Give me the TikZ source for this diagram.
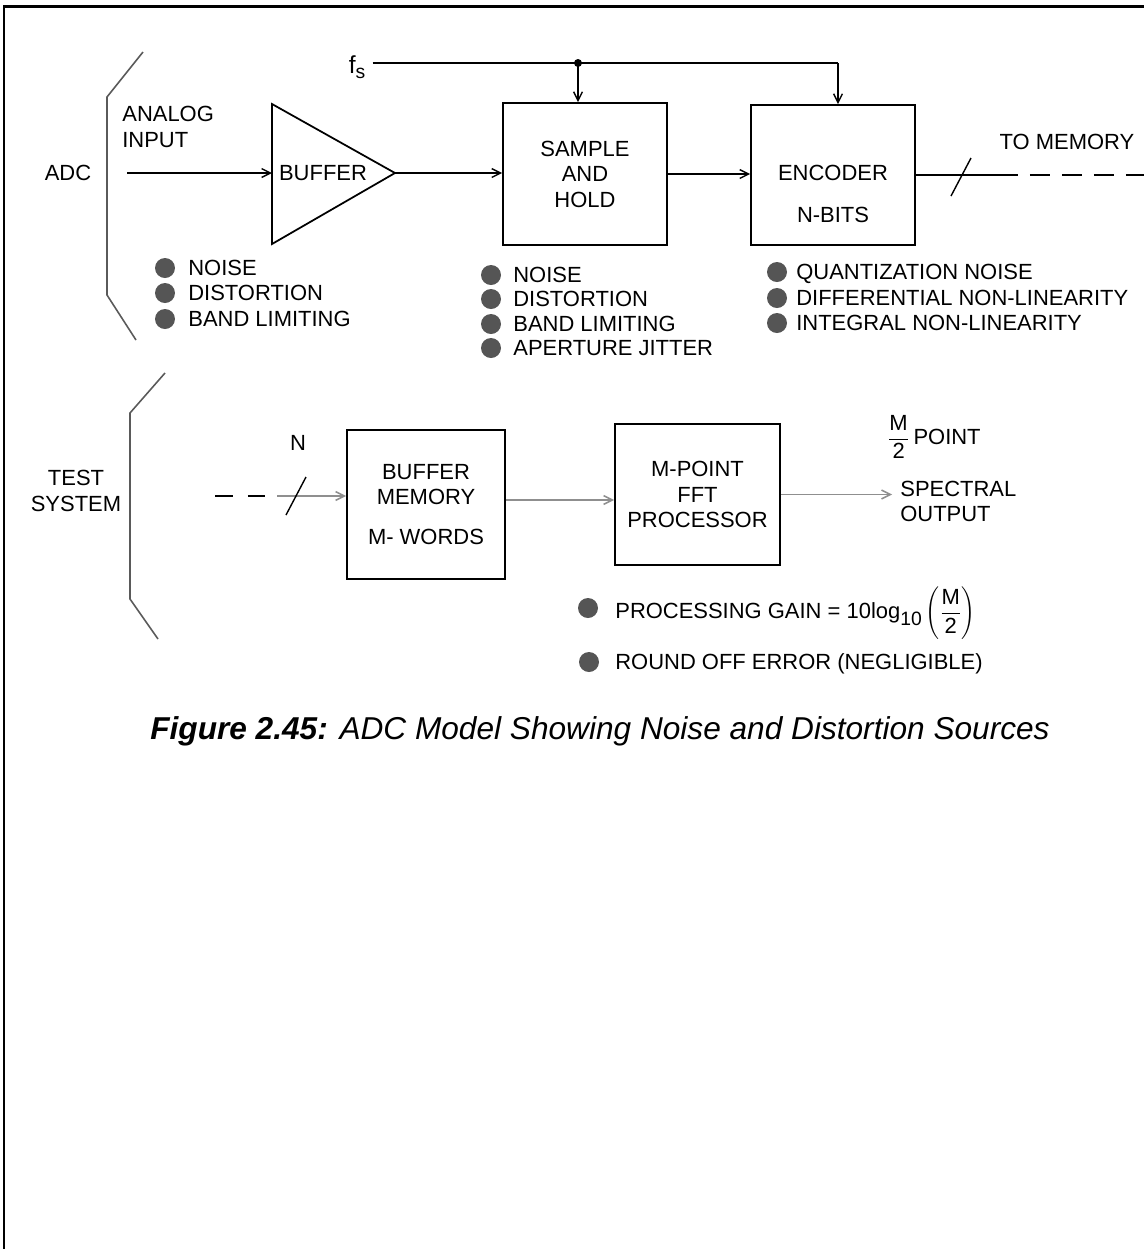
\documentclass[tikz,border=0pt]{standalone}
\usepackage{fontspec}
\setmainfont{Liberation Sans}
\usetikzlibrary{arrows.meta, positioning}
\definecolor{dotgray}{HTML}{555555}
\definecolor{brkgray}{HTML}{5A5A5A}
\definecolor{linkgray}{HTML}{8F8F8F}
\newcommand{\halfm}{{\displaystyle\frac{\mbox{M}}{\mbox{2}}}}
\tikzset{
  >={Straight Barb[length=5pt,width=5pt]},
  blk/.style={draw, line width=1pt, align=center, inner sep=0pt},
  lab/.style={inner sep=0pt, align=#1},
  lab/.default=center,
  itm/.style={anchor=west, inner sep=0pt, text height=8.9pt, text depth=0pt},
  arr/.style={->, line width=0.8pt},
  garr/.style={->, line width=0.9pt, draw=linkgray},
  brk/.style={draw=brkgray, line width=0.9pt},
  buswidth/.pic={\draw[line width=0.8pt] (-10,19) -- (10,-19);}
}

\begin{document}
\begin{tikzpicture}[x=0.02cm, y=-0.02cm, font=\fontsize{12.5}{14.5}\selectfont]
  \useasboundingbox (0,0) rectangle (1144,1249);
  % page frame, cut on two sides
  \draw[line width=1.7pt] (4,1249) -- (4,6) -- (1144,6);

  % ---- ADC ----
  \draw[brk] (143,52) -- (107,97) -- (107,295) -- (136,340);
  \node[lab] (adc) at (68,173) {ADC};
  \node[lab=left, anchor=west] (ain) at (122,127) {ANALOG\\INPUT};
  \coordinate (src) at (127,173);

  % buffer amplifier
  \draw[line width=1pt] (272,104) -- (395,173) -- (272,244) -- cycle;
  \coordinate (bufin) at (272,173);
  \coordinate (bufout) at (395,173);
  \node[lab] (buf) at (323,173) {BUFFER};

  \node[blk, minimum width=3.28cm, minimum height=2.84cm] (sh) at (585,174) {SAMPLE\\AND\\HOLD};
  \node[blk, minimum width=3.28cm, minimum height=2.8cm] (enc) at (833,175) {};
  \node[lab] (enct) at (833,194) {ENCODER\\[9.4pt]N-BITS};

  % sampling clock
  \node[inner sep=4pt, font=\fontsize{14}{14}\selectfont] (fs) at (357,67)
    {f\raisebox{-0.4ex}{\fontsize{11}{11}\selectfont s}};
  \coordinate (tap) at (578,63);
  \coordinate (clk) at (838,63);
  \draw[line width=0.8pt] (fs.east |- tap) -- (clk);
  \fill (tap) circle (0.08cm);
  \draw[arr] (tap) -- (tap |- sh.north);
  \draw[arr] (clk) -- (clk |- enc.north);

  \draw[arr] (src) -- (bufin);
  \draw[arr] (bufout) -- (bufout -| sh.west);
  \draw[arr] (sh.east) -- (sh.east -| enc.west);

  % N-bit output
  \coordinate (busend) at (1018,175);
  \coordinate (memout) at (1144,175);
  \draw[line width=0.8pt] (enc.east) -- (busend);
  \draw[line width=1pt, dash pattern=on 11.4pt off 6.8pt, dash phase=11.4pt] (busend) -- (memout);
  \pic at (961,177) {buswidth};
  \node[lab] (tomem) at (1067,142) {TO MEMORY};

  % error sources
  \foreach \y/\t [count=\i] in {268/NOISE, 293/DISTORTION, 319/BAND LIMITING} {
    \fill[dotgray] (165,\y) circle (0.2cm);
    \node[itm] (bufe\i) at (188,\y) {\t};
  }
  \foreach \y/\t [count=\i] in {275/NOISE, 299/DISTORTION, 324/BAND LIMITING, 348/APERTURE JITTER} {
    \fill[dotgray] (491,\y) circle (0.2cm);
    \node[itm] (she\i) at (513,\y) {\t};
  }
  \foreach \y/\t [count=\i] in {272/QUANTIZATION NOISE, 298/DIFFERENTIAL NON-LINEARITY, 323/INTEGRAL NON-LINEARITY} {
    \fill[dotgray] (777,\y) circle (0.2cm);
    \node[itm] (ence\i) at (796,\y) {\t};
  }

  % ---- test system ----
  \draw[brk] (165,373) -- (130,413) -- (130,599) -- (158,639);
  \node[lab] (tst) at (76,491) {TEST\\SYSTEM};
  \node[lab] (nbits) at (298,443) {N};

  \node[blk, minimum width=3.16cm, minimum height=2.98cm] (mem) at (426,504.5) {BUFFER\\MEMORY\\[8.3pt]M- WORDS};
  \node[blk, minimum width=3.3cm, minimum height=2.82cm] (fft) at (697.5,494.5) {M-POINT\\FFT\\PROCESSOR};

  \coordinate (dasha) at (215,496);
  \coordinate (dashb) at (265,496);
  \coordinate (busin) at (277,496);
  \draw[line width=1.6pt, dash pattern=on 10.2pt off 8.5pt] (dasha) -- (dashb);
  \draw[garr] (busin) -- (busin -| mem.west);
  \pic at (296,496) {buswidth};

  \coordinate (link) at (560,500);
  \draw[garr] (mem.east |- link) -- (fft.west |- link);
  \node[lab=left, anchor=west] (spec) at (900,501.5) {SPECTRAL\\OUTPUT};
  \draw[garr] (fft.east) -- ([xshift=-4.5pt]spec.west |- fft.east);
  \node[lab, anchor=west] (mpt) at (887,437) {$\halfm$\,POINT};

  \fill[dotgray] (588,608) circle (0.2cm);
  \node[itm] (gain) at (615,611) {PROCESSING GAIN = 10log\raisebox{-0.6ex}{\fontsize{11}{11}\selectfont 10}\,$\left(\halfm\right)$};
  \fill[dotgray] (589,662) circle (0.2cm);
  \node[itm] (rnd) at (615,662) {ROUND OFF ERROR (NEGLIGIBLE)};

  \node[font=\fontsize{18}{20}\selectfont\itshape] (cap) at (600,731)
    {\textbf{Figure 2.45:} ADC Model Showing Noise and Distortion Sources};
\end{tikzpicture}
\end{document}
